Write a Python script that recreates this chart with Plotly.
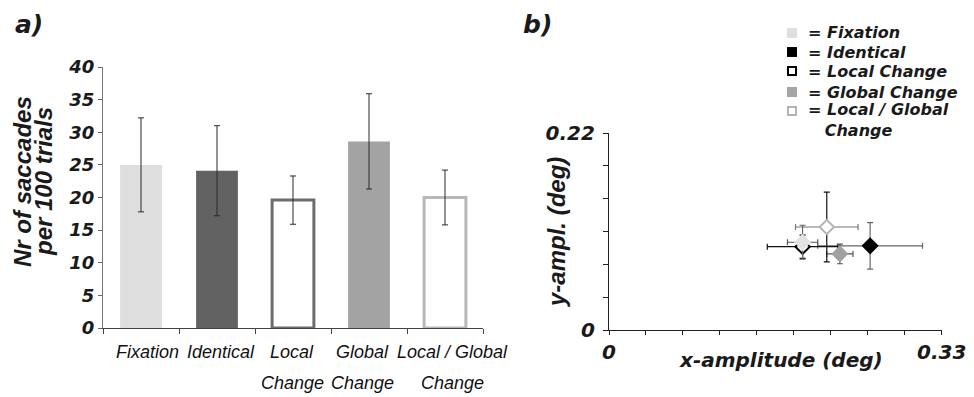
import plotly.graph_objects as go
import numpy as np

# ---- panel a: saccade counts per condition ----
conditions = ["Fixation", "Identical", "Local Change", "Global Change", "Local / Global Change"]
label_top = ["Fixation", "Identical", "Local", "Global", "Local / Global"]
label_bottom = ["", "", "Change", "Change", "Change"]
saccades = [25.0, 24.1, 19.6, 28.6, 20.0]
saccades_err = [7.2, 6.9, 3.7, 7.3, 4.2]

bar_fill = ["#dedede", "#626262", "#ffffff", "#a3a3a3", "#ffffff"]
bar_edge = ["#dedede", "#626262", "#6c6c6c", "#a3a3a3", "#b8b8b8"]
bar_edge_w = [0, 0, 3, 0, 3]

# ---- panel b: mean saccade amplitude per condition ----
x_amp = [0.192, 0.259, 0.192, 0.229, 0.216]
x_amp_err = [0.015, 0.052, 0.035, 0.013, 0.031]
y_amp = [0.098, 0.094, 0.093, 0.085, 0.115]
y_amp_err = [0.019, 0.026, 0.013, 0.011, 0.039]

pt_fill = ["#e2e2e2", "#000000", "#ffffff", "#a0a0a0", "#ffffff"]
pt_edge = ["#e2e2e2", "#000000", "#000000", "#a0a0a0", "#b4b4b4"]
errx_col = ["#555555", "#666666", "#111111", "#555555", "#777777"]
erry_col = ["#666666", "#666666", "#111111", "#555555", "#111111"]

# drawing order of the points (fixation on top)
draw_order = [1, 2, 3, 4, 0]

# small horizontal nudges (px) for the category labels
label_nudge = [6, 4, -1, -7, 7]

W, H = 974, 397
BOLD_IT = dict(family="DejaVu Sans", weight="bold", style="italic", color="#1a1a1a")
ARIAL_BI = dict(family="Liberation Sans, Arial", weight="bold", style="italic", color="#1a1a1a")
LABEL_I = dict(family="Liberation Sans, Arial", style="italic", color="#111111", size=18)


def px(x):
    return x / W


def py(y):
    return 1 - y / H


def note(x, y, text, font, xref="paper", xanchor="center", angle=0, xshift=0):
    return dict(x=x, y=y, xref=xref, yref="paper", text=text, showarrow=False,
                font=font, xanchor=xanchor, yanchor="middle", textangle=angle, xshift=xshift,
                align="left")


fig = go.Figure()

fig.add_trace(go.Bar(
    x=list(range(len(conditions))), y=saccades, width=0.55,
    marker=dict(color=bar_fill, line=dict(color=bar_edge, width=bar_edge_w)),
    error_y=dict(type="data", array=saccades_err, color="#2a2a2a", thickness=1, width=3),
    xaxis="x", yaxis="y", showlegend=False, hoverinfo="skip",
))

for i in draw_order:
    fig.add_trace(go.Scatter(
        x=[x_amp[i]], y=[y_amp[i]], mode="markers", name=conditions[i],
        marker=dict(symbol="diamond", size=11, color=pt_fill[i],
                    line=dict(color=pt_edge[i], width=2)),
        error_x=dict(type="data", array=[x_amp_err[i]], color=errx_col[i], thickness=1.2, width=3),
        error_y=dict(type="data", array=[y_amp_err[i]], color=erry_col[i], thickness=1.2, width=3),
        xaxis="x2", yaxis="y2", showlegend=False,
    ))

annotations = []
shapes = []

# category labels below the bars
for i in range(len(conditions)):
    annotations.append(note(i, py(352), label_top[i], LABEL_I, xref="x", xshift=label_nudge[i]))
    if label_bottom[i]:
        annotations.append(note(i, py(383), label_bottom[i], LABEL_I, xref="x",
                                xshift=label_nudge[i]))

# panel letters
annotations.append(note(px(29), py(24), "a)", dict(BOLD_IT, size=25)))
annotations.append(note(px(537), py(24), "b)", dict(BOLD_IT, size=25)))

# axis titles
annotations.append(note(px(23), py(182), "Nr of saccades", dict(ARIAL_BI, size=24), angle=-90))
annotations.append(note(px(44), py(182), "per 100 trials", dict(ARIAL_BI, size=24), angle=-90))
annotations.append(note(px(556), py(232), "y-ampl. (deg)", dict(ARIAL_BI, size=24), angle=-90))
annotations.append(note(px(781), py(360), "x-amplitude (deg)", dict(BOLD_IT, size=20)))

# key for panel b
key_rows = [33, 52, 71, 92, 111]
key_text_y = [33, 52, 71, 92, 120]
key_fill = ["#dedede", "#000000", "#ffffff", "#a6a6a6", "#ffffff"]
key_edge = ["#dedede", "#000000", "#000000", "#a6a6a6", "#b4b4b4"]
key_text = ["= Fixation", "= Identical", "= Local Change", "= Global Change",
            "= Local / Global<br>&nbsp;&nbsp;&nbsp;Change"]
for r, ty, f, e, t in zip(key_rows, key_text_y, key_fill, key_edge, key_text):
    shapes.append(dict(type="rect", xref="paper", yref="paper",
                       x0=px(788), x1=px(796), y0=py(r + 4), y1=py(r - 4),
                       fillcolor=f, line=dict(color=e, width=2)))
    annotations.append(note(px(806), py(ty), t, dict(BOLD_IT, size=16), xanchor="left"))

tick_x2 = list(np.linspace(0, 0.33, 10))
tick_y2 = list(np.linspace(0, 0.22, 7))

fig.update_layout(
    width=W, height=H,
    margin=dict(l=0, r=0, t=0, b=0, autoexpand=False),
    paper_bgcolor="white", plot_bgcolor="white",
    xaxis=dict(domain=[px(103), px(483)], range=[-0.5, 4.5], anchor="y",
               tickvals=[-0.5, 0.5, 1.5, 2.5, 3.5, 4.5], showticklabels=False,
               ticks="outside", ticklen=5, tickcolor="#444", showline=True,
               linecolor="#444", linewidth=1.2, showgrid=False, zeroline=False),
    yaxis=dict(domain=[py(328), py(67)], range=[0, 40], anchor="x",
               tickvals=list(range(0, 41, 5)), ticks="outside", ticklen=4,
               tickcolor="#666", showline=True, linecolor="#777", linewidth=1.2,
               tickfont=dict(BOLD_IT, size=18), showgrid=False, zeroline=False),
    xaxis2=dict(domain=[px(609), px(941.7)], range=[0, 0.33], anchor="y2",
                tickvals=tick_x2, ticktext=["0"] + [""] * 8 + ["0.33"],
                ticks="outside", ticklen=4, tickcolor="#222", showline=True,
                linecolor="#222", linewidth=1.3, tickfont=dict(BOLD_IT, size=20),
                showgrid=False, zeroline=False),
    yaxis2=dict(domain=[py(330), py(133)], range=[0, 0.22], anchor="x2",
                tickvals=tick_y2, ticktext=["0"] + [""] * 5 + ["0.22"],
                ticks="outside", ticklen=5, tickcolor="#222", showline=True,
                linecolor="#222", linewidth=1.3, tickfont=dict(BOLD_IT, size=20),
                ticklabelstandoff=4, showgrid=False, zeroline=False),
    annotations=annotations,
    shapes=shapes,
)

fig.write_html("out.html")
